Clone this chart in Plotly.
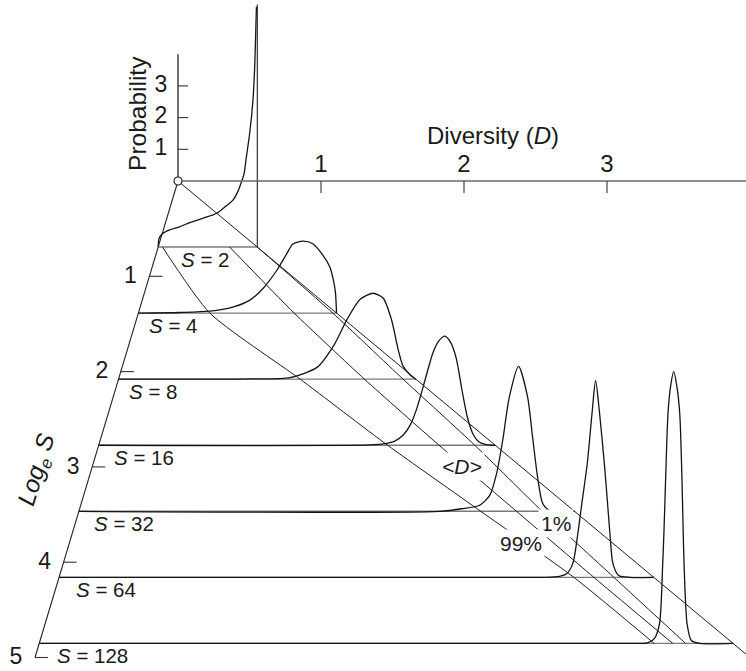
import numpy as np
import plotly.graph_objects as go

# ---------------- data ----------------
S_VALUES = [2, 4, 8, 16, 32, 64, 128]
D_TICKS = [1, 2, 3, 4]
P_TICKS = [1, 2, 3]
LOGS_TICKS = [1, 2, 3, 4, 5]

# probability density of diversity D for each S (D, P pairs)
S2_D = [0, 0.002, 0.006, 0.03, 0.08, 0.15, 0.22, 0.32, 0.407, 0.47, 0.523, 0.56, 0.582, 0.60, 0.617, 0.64, 0.663, 0.675, 0.682, 0.687]
S2_P = [0, 0.15, 0.27, 0.42, 0.54, 0.64, 0.77, 0.92, 1.06, 1.28, 1.48, 1.78, 2.05, 2.3, 2.85, 3.59, 4.64, 5.69, 6.74, 7.58]

S4_D = [0, 0.29, 0.50, 0.66, 0.78, 0.87, 0.97, 1.04, 1.08, 1.15, 1.22, 1.29, 1.34, 1.364, 1.378, 1.386]
S4_P = [0, 0.02, 0.06, 0.19, 0.41, 0.77, 1.36, 1.89, 2.18, 2.27, 2.19, 1.83, 1.45, 1.04, 0.66, 0]

S8_D = [0, 0.92, 1.20, 1.39, 1.51, 1.60, 1.69, 1.78, 1.85, 1.91, 1.953, 1.99, 2.04, 2.079]
S8_P = [0, 0.01, 0.05, 0.38, 1.10, 1.90, 2.52, 2.71, 2.56, 1.86, 0.98, 0.41, 0.13, 0]

S16_D = [0, 1.90, 2.00, 2.07, 2.13, 2.18, 2.22, 2.26, 2.30, 2.34, 2.38, 2.42, 2.46, 2.50, 2.54, 2.58, 2.62, 2.66, 2.71, 2.773]
S16_P = [0, 0.01, 0.05, 0.13, 0.32, 0.65, 1.10, 1.70, 2.35, 2.95, 3.30, 3.44, 3.25, 2.75, 1.75, 0.85, 0.33, 0.10, 0.02, 0]

S32_D = [0, 2.523, 2.677, 2.803, 2.873, 2.92, 2.964, 3.01, 3.075, 3.138, 3.173, 3.208, 3.243, 3.29, 3.466]
S32_P = [0, 0, 0.08, 0.19, 0.5, 1.17, 2.24, 3.6, 4.57, 3.6, 2.33, 1.07, 0.25, 0.03, 0]

S64_D = [0, 3.395, 3.50, 3.549, 3.593, 3.626, 3.654, 3.694, 3.727, 3.752, 3.78, 3.813, 3.834, 3.852, 3.873, 3.913, 3.99, 4.159]
S64_P = [0, 0, 0.03, 0.11, 0.44, 1.32, 2.27, 3.6, 5.17, 6.21, 5.17, 3.6, 2.43, 1.39, 0.44, 0.06, 0, 0]

S128_D = [0, 4.198, 4.255, 4.303, 4.338, 4.359, 4.369, 4.38, 4.397, 4.416, 4.437, 4.458, 4.479, 4.493, 4.503, 4.51, 4.53, 4.56, 4.62, 4.852]
S128_P = [0, 0, 0.02, 0.16, 0.63, 2.4, 3.56, 5.14, 7.26, 8.14, 8.58, 8.14, 7.26, 5.46, 3.56, 2.4, 0.63, 0.09, 0, 0]

# summary lines, one value per S
MEAN_D = [0.50, 1.09, 1.72, 2.38, 3.06, 3.74, 4.43]      # <D>
UPPER1_D = [0.693, 1.36, 1.99, 2.63, 3.24, 3.88, 4.52]   # 1% line
LOWER99_D = [0.03, 0.50, 1.27, 2.02, 2.81, 3.60, 4.30]   # 99% line

S2_ASYMPTOTE_TOP = 7.65
MAXLINE_LOGS_END = 5.0
P_AXIS_TOP = 4
D_AXIS_END = 4.2

# ---------------- oblique projection ----------------
SX, SY = 143.0, 31.7     # px per unit D, px per unit P
LX, LY = 28.6, 95.3      # px left / px down per unit log S
OX, OY = 178.0, 181.0    # origin in page pixels
W, H = 746, 671


def proj(D, L, P):
    D = np.asarray(D, float)
    L = np.asarray(L, float)
    P = np.asarray(P, float)
    return D - (LX / SX) * L, P - (LY / SY) * L


def pxx(dx):
    return dx / SX


def pxy(dy_down):
    return -dy_down / SY


FONT = "Liberation Sans, Arial, Helvetica, sans-serif"
TXT_C = "#1a1a1a"
CURVE_C = "#141414"
LINE_C = "#1e1e1e"
BASE_C = "#7a7a7a"
AXIS_C = "#6a6a6a"

fig = go.Figure()


def add_line(x, y, color, width, shape="linear", smoothing=1.0):
    fig.add_trace(go.Scatter(x=list(x), y=list(y), mode="lines",
                             line=dict(color=color, width=width, shape=shape, smoothing=smoothing),
                             hoverinfo="skip", showlegend=False, cliponaxis=True))


# baselines
for s in S_VALUES:
    L = np.log(s)
    X, Y = proj([0, L], [L, L], [0, 0])
    add_line(X, Y, BASE_C, 1.4)

# distribution curves
curves = [(2, S2_D, S2_P), (4, S4_D, S4_P), (8, S8_D, S8_P), (16, S16_D, S16_P),
          (32, S32_D, S32_P), (64, S64_D, S64_P), (128, S128_D, S128_P)]
for s, dd, pp in curves:
    L = np.log(s)
    X, Y = proj(dd, np.full(len(dd), L), pp)
    add_line(X, Y, CURVE_C, 1.3, shape="spline", smoothing=0.7)

# vertical asymptote at D = ln 2 for S = 2
L2 = np.log(2)
X, Y = proj([L2, L2], [L2, L2], [0, S2_ASYMPTOTE_TOP])
add_line(X, Y, LINE_C, 1.1)

# maximum-diversity line D = ln S
X, Y = proj([0, MAXLINE_LOGS_END], [0, MAXLINE_LOGS_END], [0, 0])
add_line(X, Y, LINE_C, 1.0)

# summary lines
LS = np.log(S_VALUES)
for vals in (MEAN_D, UPPER1_D, LOWER99_D):
    X, Y = proj(vals, LS, np.zeros(len(LS)))
    add_line(X, Y, LINE_C, 1.0, shape="spline", smoothing=0.6)

# axes
X, Y = proj([0, D_AXIS_END], [0, 0], [0, 0])
add_line(X, Y, AXIS_C, 1.4)
X, Y = proj([0, 0], [0, 0], [0, P_AXIS_TOP])
add_line(X, Y, "#222222", 1.3)
X, Y = proj([0, 0], [0, LOGS_TICKS[-1]], [0, 0])
add_line(X, Y, "#222222", 1.1)

# ticks
tx, ty = [], []
for d in D_TICKS:
    X, Y = proj(d, 0, 0)
    tx += [float(X), float(X), None]
    ty += [float(Y), float(Y) + pxy(12), None]
for p in P_TICKS:
    X, Y = proj(0, 0, p)
    tx += [float(X), float(X) + pxx(10), None]
    ty += [float(Y), float(Y), None]
for l in LOGS_TICKS:
    X, Y = proj(0, l, 0)
    tx += [float(X), float(X) + pxx(13), None]
    ty += [float(Y), float(Y), None]
add_line(tx, ty, "#333333", 1.1)


# tick labels
def add_text(x, y, text, size):
    fig.add_trace(go.Scatter(x=x, y=y, text=text, mode="text", textposition="middle center",
                             textfont=dict(family=FONT, size=size, color=TXT_C),
                             hoverinfo="skip", showlegend=False, cliponaxis=False))


X, Y = proj(D_TICKS, np.zeros(len(D_TICKS)), np.zeros(len(D_TICKS)))
add_text(X, Y + pxy(-15), [str(v) for v in D_TICKS], 24)
X, Y = proj(np.zeros(len(P_TICKS)), np.zeros(len(P_TICKS)), P_TICKS)
add_text(X - pxx(17), Y, [str(v) for v in P_TICKS], 23)
X, Y = proj(np.zeros(len(LOGS_TICKS)), LOGS_TICKS, np.zeros(len(LOGS_TICKS)))
add_text(X - pxx(19), Y - pxy(-1), [str(v) for v in LOGS_TICKS], 23)

# origin marker
X, Y = proj(0, 0, 0)
fig.add_trace(go.Scatter(x=[float(X)], y=[float(Y)], mode="markers",
                         marker=dict(size=8, color="white", line=dict(color="#222222", width=1.2)),
                         hoverinfo="skip", showlegend=False, cliponaxis=False))

annotations = []
# S labels below each baseline
S_LABEL_SHIFT = [21.5, 9.5, 9.5, 14, 14, 15.5, 17]
for s, sh in zip(S_VALUES, S_LABEL_SHIFT):
    L = np.log(s)
    X, Y = proj(0, L, 0)
    annotations.append(dict(x=float(X) + pxx(sh), y=float(Y) + pxy(12.5), xref="x", yref="y",
                            text=f"<i>S</i> = {s}", showarrow=False, xanchor="left", yanchor="middle",
                            font=dict(family=FONT, size=20.5, color=TXT_C), borderpad=0))

# line labels placed on their lines
for (d, l, txt) in [(2.586, 3.0, "<i>&lt;D&gt;</i>"), (3.361, 3.589, "1%"), (3.158, 3.799, "99%")]:
    X, Y = proj(d, l, 0)
    annotations.append(dict(x=float(X), y=float(Y), xref="x", yref="y", text=txt, showarrow=False,
                            xanchor="center", yanchor="middle", bgcolor="white", borderpad=2,
                            font=dict(family=FONT, size=21, color=TXT_C)))

# axis titles
X, Y = proj(2.203, 0, 1.43)
annotations.append(dict(x=float(X), y=float(Y), xref="x", yref="y", text="Diversity (<i>D</i>)",
                        showarrow=False, font=dict(family=FONT, size=24, color=TXT_C), borderpad=0))
X, Y = proj(-0.287, 0, 2.145)
annotations.append(dict(x=float(X), y=float(Y), xref="x", yref="y", text="Probability", textangle=-90,
                        showarrow=False, font=dict(family=FONT, size=24.5, color=TXT_C)))
X, Y = proj(-0.371, 3.03, 0)
annotations.append(dict(x=float(X), y=float(Y), xref="x", yref="y",
                        text="<i>Log<sub>e</sub> S</i>", textangle=-73,
                        showarrow=False, font=dict(family=FONT, size=24.5, color=TXT_C)))

fig.update_layout(
    width=W, height=H, margin=dict(l=0, r=0, t=0, b=0, pad=0),
    paper_bgcolor="white", plot_bgcolor="white", showlegend=False,
    xaxis=dict(range=[-OX / SX, (W - OX) / SX], visible=False, fixedrange=True),
    yaxis=dict(range=[(OY - H) / SY, OY / SY], visible=False, fixedrange=True),
    annotations=annotations,
)

fig.write_html("out.html")
